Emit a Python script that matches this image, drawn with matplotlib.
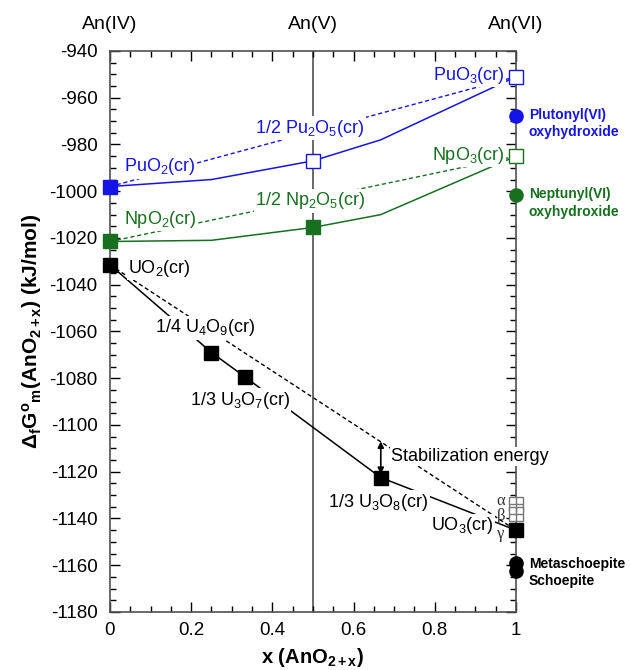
import matplotlib
matplotlib.use("Agg")
import matplotlib.pyplot as plt
from matplotlib.ticker import MultipleLocator

plt.rcParams['font.family'] = ['Liberation Sans', 'DejaVu Sans']
plt.rcParams['mathtext.fontset'] = 'custom'
plt.rcParams['mathtext.rm'] = 'Liberation Sans'
plt.rcParams['mathtext.it'] = 'Liberation Sans:italic'
plt.rcParams['mathtext.bf'] = 'Liberation Sans:bold'
plt.rcParams['mathtext.default'] = 'regular'
plt.rcParams['axes.unicode_minus'] = False

BLUE = '#1414e6'
GREEN = '#17701f'

# Pu system
pu_line_x = [0, 0.25, 0.5, 0.667, 1]
pu_line_y = [-998, -995, -987, -978, -951]
pu_ox_x = [0, 0.5, 1]
pu_ox_y = [-998, -987, -951]
pu_hyd_y = -968

# Np system
np_line_x = [0, 0.25, 0.5, 0.667, 1]
np_line_y = [-1021.5, -1021, -1015.5, -1010, -985]
np_ox_x = [0, 0.5, 1]
np_ox_y = [-1021.5, -1015.5, -985]
np_hyd_y = -1001.5

# U system
u_x = [0, 0.25, 0.333, 0.667, 1]
u_y = [-1031.5, -1069, -1079.5, -1122.5, -1145]
uo3_alpha = -1134
uo3_beta = -1138
schoepite_y = [-1159, -1162.5]

fig = plt.figure(figsize=(6.3, 6.7), dpi=100)
ax = fig.add_axes([0.1746, 0.0866, 0.6444, 0.8373])

ax.axvline(0.5, color='#505050', lw=1.2, zorder=1)

# straight (dashed) reference lines
ax.plot([pu_ox_x[0], pu_ox_x[-1]], [pu_ox_y[0], pu_ox_y[-1]], ls=(0, (3, 2)), color=BLUE, lw=1, zorder=2)
ax.plot([np_ox_x[0], np_ox_x[-1]], [np_ox_y[0], np_ox_y[-1]], ls=(0, (3, 2)), color=GREEN, lw=1, zorder=2)
ax.plot([u_x[0], u_x[-1]], [u_y[0], u_y[-1]], ls=(0, (3, 2)), color='black', lw=1, zorder=2)

# solid curves
ax.plot(pu_line_x, pu_line_y, color=BLUE, lw=1.1, zorder=2)
ax.plot(np_line_x, np_line_y, color=GREEN, lw=1.1, zorder=2)
ax.plot(u_x, u_y, color='black', lw=1.1, zorder=2)

ms = 9.5
# Pu markers
ax.plot(pu_ox_x[0], pu_ox_y[0], 's', ms=ms, color=BLUE, clip_on=False, zorder=6)
ax.plot(pu_ox_x[1:], pu_ox_y[1:], 's', ms=ms, mfc='white', mec=BLUE, mew=1,
        ls='none', clip_on=False, zorder=6)
ax.plot(1, pu_hyd_y, 'o', ms=ms, color=BLUE, clip_on=False, zorder=6)
# Np markers
ax.plot(np_ox_x[:2], np_ox_y[:2], 's', ms=ms, color=GREEN, ls='none', clip_on=False, zorder=6)
ax.plot(np_ox_x[2], np_ox_y[2], 's', ms=ms, mfc='white', mec=GREEN, mew=1,
        clip_on=False, zorder=6)
ax.plot(1, np_hyd_y, 'o', ms=ms, color=GREEN, clip_on=False, zorder=6)
# U markers
ax.plot([1, 1], [uo3_alpha, uo3_beta], 's', ms=ms, mfc='white', mec='#777777', mew=1,
        ls='none', clip_on=False, zorder=6)
ax.plot([1, 1], [uo3_alpha, uo3_beta], '+', ms=ms, mec='#777777', mew=1,
        ls='none', clip_on=False, zorder=6)
ax.plot(u_x, u_y, 's', ms=ms, color='black', ls='none', clip_on=False, zorder=7)
ax.plot([1, 1], schoepite_y, 'o', ms=ms, color='black', ls='none', clip_on=False, zorder=6)

box = dict(facecolor='white', edgecolor='none', pad=1)
fs = 13
def lab(x, y, s, color, ha='center', **kw):
    ax.text(x, y, s, color=color, fontsize=fs, ha=ha, va='center', bbox=box, zorder=4, **kw)

lab(0.973, -950.5, 'PuO$_3$(cr)', BLUE, ha='right')
lab(0.493, -973, '1/2 Pu$_2$O$_5$(cr)', BLUE)
lab(0.034, -989.5, 'PuO$_2$(cr)', BLUE, ha='left')
lab(0.973, -984.5, 'NpO$_3$(cr)', GREEN, ha='right')
lab(0.493, -1004, '1/2 Np$_2$O$_5$(cr)', GREEN)
lab(0.034, -1012, 'NpO$_2$(cr)', GREEN, ha='left')
lab(0.045, -1033, 'UO$_2$(cr)', 'black', ha='left')
lab(0.234, -1058.5, '1/4 U$_4$O$_9$(cr)', 'black')
lab(0.32, -1089.5, '1/3 U$_3$O$_7$(cr)', 'black')
lab(0.66, -1133, '1/3 U$_3$O$_8$(cr)', 'black')
lab(0.945, -1143, 'UO$_3$(cr)', 'black', ha='right')
ax.text(0.693, -1113.5, 'Stabilization energy', fontsize=fs, ha='left', va='center',
        bbox=box, zorder=4)
ax.annotate('', xy=(0.667, -1107), xytext=(0.667, -1121),
            arrowprops=dict(arrowstyle='<|-|>', color='black', lw=1.2,
                            mutation_scale=9, shrinkA=0, shrinkB=0), zorder=5)

for yy, g in zip([-1132.5, -1139, -1146.5], ['α', 'β', 'γ']):
    ax.text(0.963, yy, g, fontsize=12, family='Liberation Serif', ha='center',
            va='center', color='#333333', zorder=5)

side = dict(fontsize=10, fontweight='bold', ha='left', va='center', linespacing=1.3)
ax.text(1.032, -971, 'Plutonyl(VI)\noxyhydroxide', color=BLUE, **side, clip_on=False)
ax.text(1.032, -1005, 'Neptunyl(VI)\noxyhydroxide', color=GREEN, **side, clip_on=False)
ax.text(1.032, -1163, 'Metaschoepite\nSchoepite', color='black', **side, clip_on=False)

for x, s in zip([0, 0.5, 1], ['An(IV)', 'An(V)', 'An(VI)']):
    ax.text(x, 1.032, s, transform=ax.get_xaxis_transform(), fontsize=14,
            ha='center', va='bottom')

ax.set_xlim(0, 1)
ax.set_ylim(-1180, -940)
ax.xaxis.set_minor_locator(MultipleLocator(0.05))
ax.yaxis.set_major_locator(MultipleLocator(20))
ax.yaxis.set_minor_locator(MultipleLocator(5))
ax.set_xticks([0, 0.2, 0.4, 0.6, 0.8, 1])
ax.set_xticklabels(['0', '0.2', '0.4', '0.6', '0.8', '1'])
ax.tick_params(which='both', direction='in', top=True, right=True, labelsize=13.5)
ax.tick_params(axis='y', pad=9)
ax.tick_params(axis='x', pad=7)
ax.tick_params(which='major', length=7, width=1)
ax.tick_params(which='minor', length=4, width=1)
for sp in ax.spines.values():
    sp.set_color('#505050')
    sp.set_linewidth(1.2)

ax.set_xlabel(r'$\mathbf{x\ (AnO_{2+x})}$', fontsize=14.5, labelpad=5)
ax.set_ylabel(r'$\mathbf{\Delta_fG^o{}_m(AnO_{2+x})\ (kJ/mol)}$', fontsize=15, labelpad=4)

fig.savefig('out.png', dpi=100)
